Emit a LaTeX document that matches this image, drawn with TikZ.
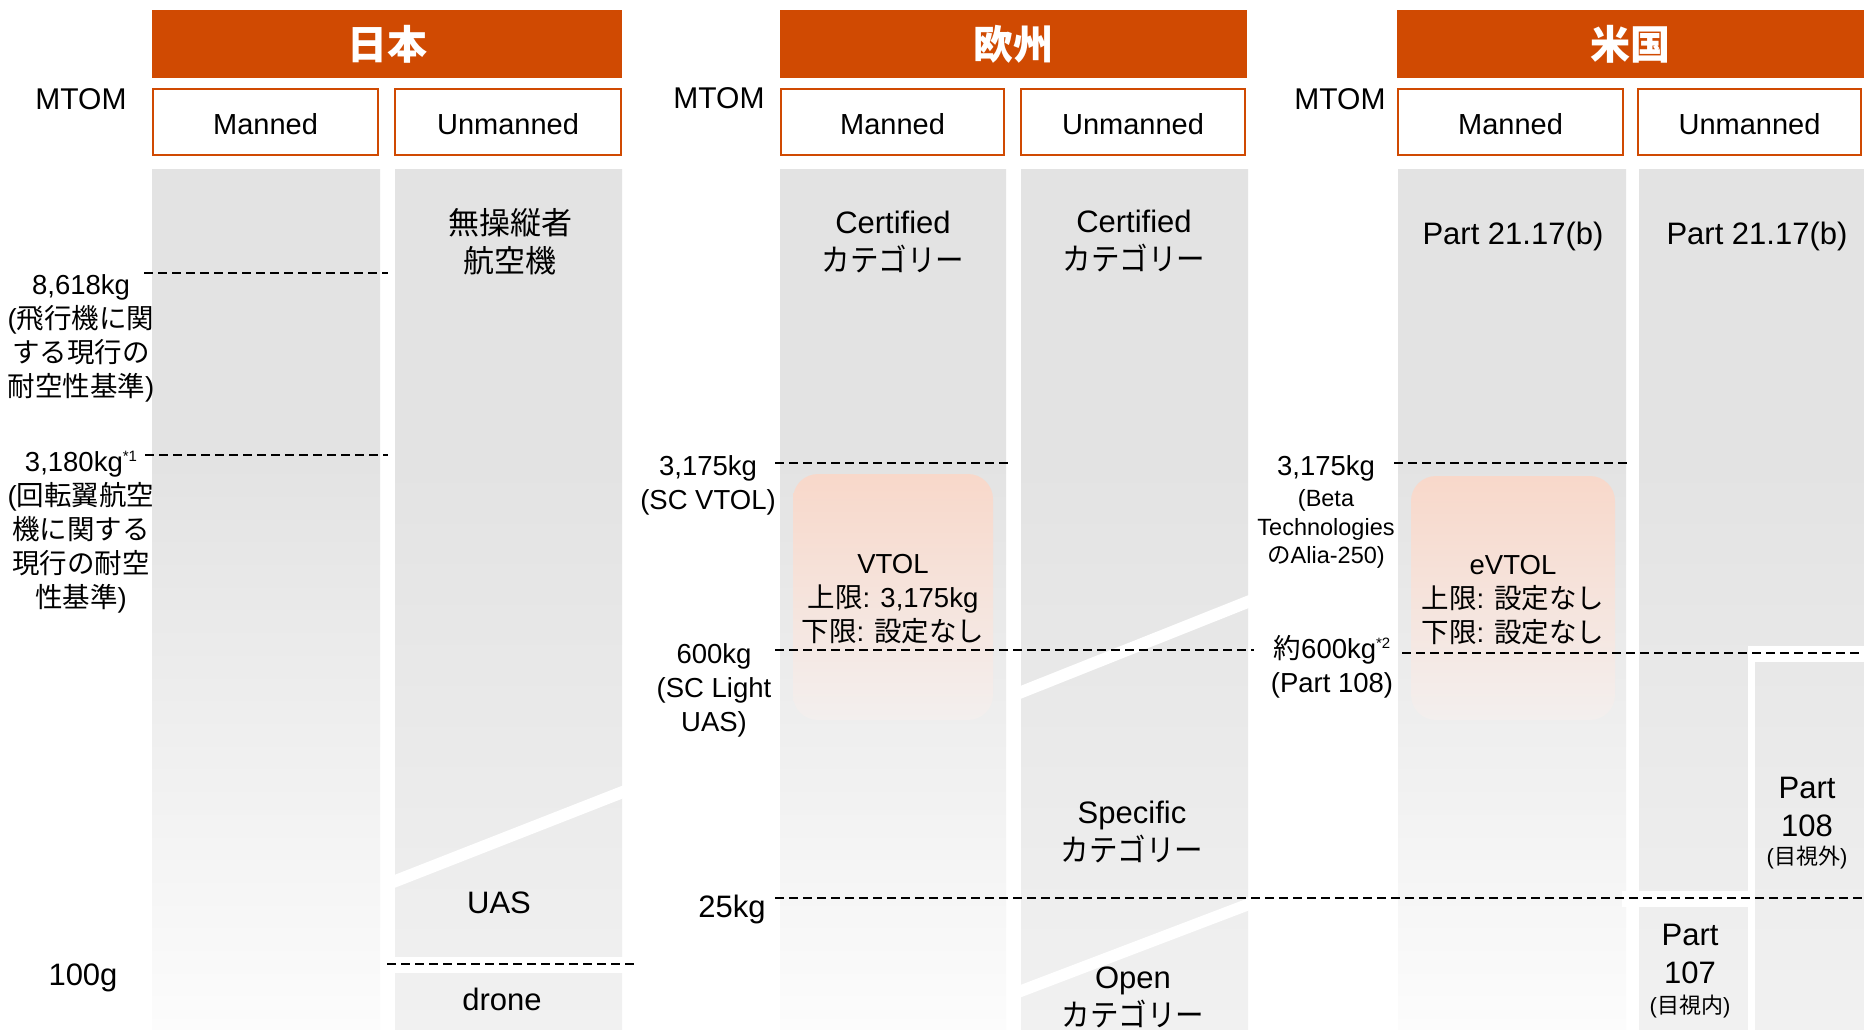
\documentclass[tikz,border=0pt]{standalone}
\usepackage{fontspec}
\usepackage{graphicx}
\setmainfont{Liberation Sans}
\newfontfamily\jpf{Noto Sans CJK JP}
\newcommand{\jp}[1]{{\jpf #1}}
\newcommand{\kat}{\scalebox{0.92}[1]{\jpf カテゴリー}}
\newcommand{\supnote}[1]{\raisebox{10pt}{\fontsize{15}{15}\selectfont #1}}
\definecolor{pwc}{HTML}{D04A02}
\definecolor{gtop}{RGB}{227,227,227}
\definecolor{mbot}{RGB}{252,252,252}
\definecolor{ubot}{RGB}{241,241,241}
\definecolor{peachtop}{RGB}{248,216,202}
\definecolor{peachbot}{RGB}{243,239,238}
\pgfdeclareverticalshading{mshade}{100bp}{color(0bp)=(mbot); color(25bp)=(mbot); color(58bp)=(gtop); color(100bp)=(gtop)}
\pgfdeclareverticalshading{ushade}{100bp}{color(0bp)=(ubot); color(25bp)=(ubot); color(58bp)=(gtop); color(100bp)=(gtop)}
\tikzset{
 hdr/.style={fill=pwc, text=white, inner sep=0pt, minimum height=68pt, font=\jpf\bfseries\fontsize{40}{48}\selectfont},
 subhd/.style={draw=pwc, line width=2pt, fill=white, inner sep=0pt, minimum height=66pt, text height=26pt, text depth=0pt, font=\fontsize{29}{35}\selectfont},
 mtom/.style={inner sep=0pt, yshift=-2pt, font=\fontsize{30}{36}\selectfont},
 cell/.style={align=center, inner sep=0pt, yshift=-2.5pt, font=\fontsize{31}{38}\selectfont},
 lab/.style={align=center, inner sep=0pt, yshift=-2.5pt, font=\fontsize{27.5}{34}\selectfont},
 smalllab/.style={align=center, inner sep=0pt, yshift=-2pt, font=\fontsize{23.5}{28.5}\selectfont},
 tinylab/.style={align=center, inner sep=0pt, yshift=-2pt, font=\fontsize{22}{26}\selectfont},
 pbox/.style={rounded corners=25pt, top color=peachtop, bottom color=peachbot, draw=none, inner sep=0pt},
 thr/.style={line width=2.2pt, dash pattern=on 9pt off 5pt},
 gap/.style={fill=white, draw=none}
}
\begin{document}
\begin{tikzpicture}[x=1pt,y=-1pt]
\useasboundingbox (0,0) rectangle (1864,1030);
\fill[white] (0,0) rectangle (1864,1030);

% gray columns
\shade[shading=mshade] (152,170) rectangle (380,1030);
\shade[shading=ushade] (395,170) rectangle (622,1030);
\shade[shading=mshade] (780,170) rectangle (1006,1030);
\shade[shading=ushade] (1021,170) rectangle (1248,1030);
\shade[shading=mshade] (1398,170) rectangle (1626,1030);
\shade[shading=ushade] (1639,170) rectangle (1864,1030);

% white gaps / diagonals
\fill[gap] (393,875.5) -- (624,785) -- (624,798) -- (393,888.5) -- cycle;
\fill[gap] (393,957) rectangle (624,973);
\fill[gap] (1019,686.5) -- (1250,594.5) -- (1250,607.5) -- (1019,699.5) -- cycle;
\fill[gap] (1019,985.5) -- (1250,897.5) -- (1250,910) -- (1019,998) -- cycle;
\fill[gap] (1748,646) rectangle (1866,662);
\fill[gap] (1748,646) rectangle (1755,1032);
\fill[gap] (1622,891) rectangle (1755,907);

% headers
\node[hdr, minimum width=470pt] (hjp) at (387,44) {日本};
\node[hdr, minimum width=467pt] (heu) at (1013.5,44) {欧州};
\node[hdr, minimum width=467pt] (hus) at (1630.5,44) {米国};

\node[subhd, minimum width=225pt] (jpm) at (265.5,122) {Manned};
\node[subhd, minimum width=226pt] (jpu) at (508,122) {Unmanned};
\node[subhd, minimum width=223pt] (eum) at (892.5,122) {Manned};
\node[subhd, minimum width=224pt] (euu) at (1133,122) {Unmanned};
\node[subhd, minimum width=225pt] (usm) at (1510.5,122) {Manned};
\node[subhd, minimum width=223pt] (usu) at (1749.5,122) {Unmanned};

\node[mtom] (mtjp) at (81,97) {MTOM};
\node[mtom] (mteu) at (719,96) {MTOM};
\node[mtom] (mtus) at (1340,97) {MTOM};

% peach boxes
\node[pbox, minimum width=200pt, minimum height=246pt] (vtol) at (893,597) {};
\node[lab] (vtolt) at (893,597) {VTOL\\\jp{上限}: 3,175kg\\\jp{下限}: \jp{設定なし}};
\node[pbox, minimum width=204pt, minimum height=244pt] (evtol) at (1513,598) {};
\node[lab] (evtolt) at (1513,598) {eVTOL\\\jp{上限}: \jp{設定なし}\\\jp{下限}: \jp{設定なし}};

% Japan
\node[cell] (jpcell) at (510,239) {\jp{無操縦者}\\\jp{航空機}};
\node[lab] (l8618) at (81,336) {8,618kg\\(\jp{飛行機に関}\\\jp{する現行の}\\\jp{耐空性基準})};
\node[lab] (l3180) at (81,530) {3,180kg\supnote{*1}\\(\jp{回転翼航空}\\\jp{機に関する}\\\jp{現行の耐空}\\\jp{性基準})};
\node[cell] (uas) at (499,900) {UAS};
\node[cell] (drone) at (502,997) {drone};
\node[cell] (l100) at (83,975) {100g};

% Europe
\node[cell] (eucm) at (893,240) {Certified\\\kat};
\node[cell] (eucu) at (1134,239) {Certified\\\kat};
\node[lab] (eu3175) at (708,483) {3,175kg\\(SC VTOL)};
\node[lab] (eu600) at (714,688) {600kg\\(SC Light\\UAS)};
\node[cell] (eu25) at (732,907) {25kg};
\node[cell] (euspec) at (1132,830) {Specific\\\kat};
\node[cell] (euopen) at (1133,995) {Open\\\kat};

% US
\node[cell] (usp1) at (1513,234) {Part 21.17(b)};
\node[cell] (usp2) at (1757,234) {Part 21.17(b)};
\node[lab] (us3175) at (1326,466) {3,175kg};
\node[smalllab] (usbeta) at (1326,527) {(Beta\\Technologies\\\jp{の}Alia-250)};
\node[lab] (us600) at (1332,664) {\jp{約}600kg\supnote{*2}\\(Part 108)};
\node[cell] (p108) at (1807,804) {Part\\108};
\node[tinylab] (p108s) at (1807,856) {(\jp{目視外})};
\node[cell] (p107) at (1690,951) {Part\\107};
\node[tinylab] (p107s) at (1690,1005) {(\jp{目視内})};

% threshold lines
\draw[thr] (144,273) -- (388,273);
\draw[thr] (145,455) -- (388,455);
\draw[thr] (387,964) -- (635,964);
\draw[thr] (775,463) -- (1010,463);
\draw[thr] (775,650) -- (1254,650);
\draw[thr] (775,898) -- (1864,898);
\draw[thr] (1394,463) -- (1629,463);
\draw[thr] (1402,653) -- (1864,653);
\end{tikzpicture}
\end{document}
